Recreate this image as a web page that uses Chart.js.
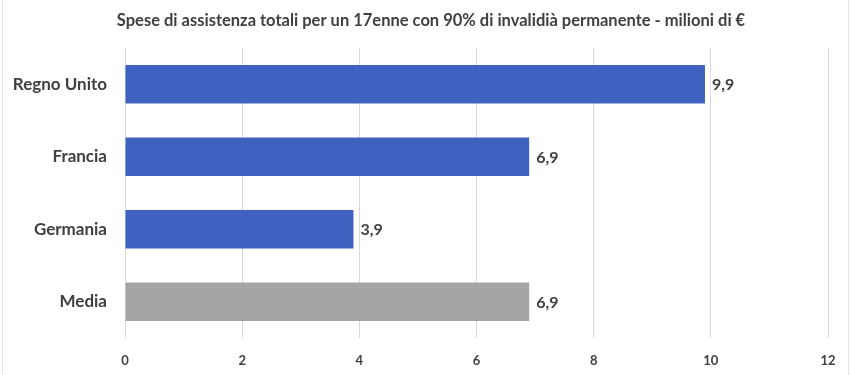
<!DOCTYPE html>
<html>
<head>
<meta charset="utf-8">
<script src="https://cdn.jsdelivr.net/npm/chart.js@4/dist/chart.umd.min.js"></script>
<style>
html,body{margin:0;padding:0;background:#fff;}
#wrap{width:851px;height:375px;position:relative;}
</style>
</head>
<body>
<div id="wrap"><canvas id="c" width="851" height="375"></canvas></div>
<script>
const categories = ["Regno Unito", "Francia", "Germania", "Media"];
const values = [9.9, 6.9, 3.9, 6.9];
const barColors = ["#3F62C0", "#3F62C0", "#3F62C0", "#A5A5A5"];
const xTicks = [0, 2, 4, 6, 8, 10, 12];
const titleText = "Spese di assistenza totali per un 17enne con 90% di invalidià permanente - milioni di €";

const FONT = "Lato, 'Open Sans', sans-serif";

const bgPlugin = {
  id: 'bg',
  beforeDraw(chart) {
    const ctx = chart.ctx;
    ctx.save();
    ctx.fillStyle = '#fff';
    ctx.fillRect(0, 0, chart.width, chart.height);
    ctx.strokeStyle = '#e4e4e4';
    ctx.lineWidth = 1;
    ctx.strokeRect(2.5, -1, chart.width - 5, chart.height + 2);
    ctx.restore();
  }
};

const titlePlugin = {
  id: 'customTitle',
  afterDraw(chart) {
    const ctx = chart.ctx;
    ctx.save();
    ctx.font = "bold 16.5px " + FONT;
    ctx.fillStyle = '#404040';
    ctx.textAlign = 'center';
    ctx.textBaseline = 'middle';
    ctx.fillText(titleText, 431, 21);
    ctx.restore();
  }
};

const labelPlugin = {
  id: 'valueLabels',
  afterDatasetsDraw(chart) {
    const ctx = chart.ctx;
    const meta = chart.getDatasetMeta(0);
    ctx.save();
    ctx.font = "bold 16px " + FONT;
    ctx.fillStyle = '#404040';
    ctx.textAlign = 'left';
    ctx.textBaseline = 'middle';
    meta.data.forEach((bar, i) => {
      ctx.fillText(values[i].toFixed(1).replace('.', ','), bar.x + 7, bar.y + 1);
    });
    ctx.restore();
  }
};

new Chart(document.getElementById('c'), {
  type: 'bar',
  data: {
    labels: categories,
    datasets: [{
      data: values,
      backgroundColor: barColors,
      borderWidth: 0,
      categoryPercentage: 1,
      barPercentage: 0.53
    }]
  },
  plugins: [bgPlugin, labelPlugin, titlePlugin],
  options: {
    indexAxis: 'y',
    responsive: false,
    animation: false,
    layout: { padding: { left: 0, right: 23, top: 48, bottom: 0 } },
    plugins: {
      legend: { display: false },
      tooltip: { enabled: false },
      title: { display: false }
    },
    scales: {
      x: {
        min: 0,
        max: 12,
        afterBuildTicks(scale) { scale.ticks = xTicks.map(v => ({ value: v })); },
        afterFit(scale) { scale.height = 37; },
        grid: { color: '#d9d9d9', drawTicks: false, lineWidth: 1 },
        border: { display: false },
        ticks: {
          padding: 15,
          color: '#404040',
          font: { family: FONT, size: 13, weight: 'bold' }
        }
      },
      y: {
        afterFit(scale) { scale.width = 125; },
        grid: { display: false, drawTicks: false },
        border: { display: false },
        ticks: {
          padding: 18,
          color: '#404040',
          font: { family: FONT, size: 17, weight: 'bold' }
        }
      }
    }
  }
});
</script>
</body>
</html>
